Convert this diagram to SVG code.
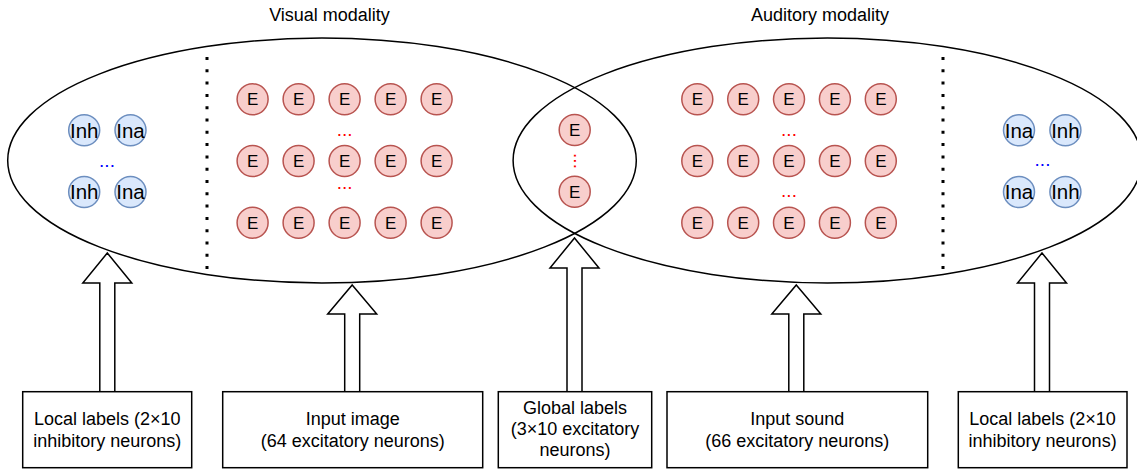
<svg xmlns="http://www.w3.org/2000/svg" width="1137" height="470" viewBox="0 0 1137 470">
<defs>
<style>
.t{font-family:"Liberation Sans",Arial,sans-serif;font-size:18px;fill:#000;text-anchor:middle}
.e circle{fill:#f8cecc;stroke:#b85450;stroke-width:1.5}
.e text{font-family:"Liberation Sans",Arial,sans-serif;font-size:17px;fill:#000;text-anchor:middle}
.i circle{fill:#dae8fc;stroke:#6c8ebf;stroke-width:1.5}
.i text{font-family:"Liberation Sans",Arial,sans-serif;font-size:20.5px;fill:#000;text-anchor:middle}
g text.dr{font-family:"Liberation Sans",Arial,sans-serif;font-size:19px;fill:#ff0000;text-anchor:middle}
g text.db{font-family:"Liberation Sans",Arial,sans-serif;font-size:19px;fill:#0000ff;text-anchor:middle}
.ell{fill:none;stroke:#000;stroke-width:1.5}
.box{fill:#fff;stroke:#000;stroke-width:1.5}
.arr{fill:#fff;stroke:#000;stroke-width:1.5;stroke-linejoin:miter}
.sep{stroke:#000;stroke-width:3;stroke-dasharray:3 9.3;fill:none}
</style>
</defs>
<rect width="1137" height="470" fill="#fff"/>

<g id="titles">
<text class="t" x="329.5" y="21">Visual modality</text>
<text class="t" x="820" y="21">Auditory modality</text>
</g>

<g id="visual-modality">
<ellipse class="ell" cx="322" cy="160.5" rx="314.3" ry="122.5"/>
</g>
<g id="auditory-modality">
<ellipse class="ell" cx="827.4" cy="160.5" rx="314.3" ry="122.5"/>
</g>

<g id="separators">
<line class="sep" x1="207" y1="57" x2="207" y2="270"/>
<line class="sep" x1="943" y1="57" x2="943" y2="270"/>
</g>

<g id="visual-local-labels" class="i">
<circle cx="84.2" cy="130.3" r="15.5"/><text x="84.2" y="137.6">Inh</text>
<circle cx="130.5" cy="130.3" r="15.5"/><text x="130.5" y="137.6">Ina</text>
<circle cx="84.2" cy="192" r="15.5"/><text x="84.2" y="199.3">Inh</text>
<circle cx="130.5" cy="192" r="15.5"/><text x="130.5" y="199.3">Ina</text>
<text class="db" x="107" y="166.5">...</text>
</g>

<g id="visual-input" class="e">
<circle cx="252.6" cy="99.3" r="15.5"/><text x="252.6" y="105.4">E</text>
<circle cx="298.6" cy="99.3" r="15.5"/><text x="298.6" y="105.4">E</text>
<circle cx="344.6" cy="99.3" r="15.5"/><text x="344.6" y="105.4">E</text>
<circle cx="390.6" cy="99.3" r="15.5"/><text x="390.6" y="105.4">E</text>
<circle cx="436.6" cy="99.3" r="15.5"/><text x="436.6" y="105.4">E</text>
<circle cx="252.6" cy="161" r="15.5"/><text x="252.6" y="167.1">E</text>
<circle cx="298.6" cy="161" r="15.5"/><text x="298.6" y="167.1">E</text>
<circle cx="344.6" cy="161" r="15.5"/><text x="344.6" y="167.1">E</text>
<circle cx="390.6" cy="161" r="15.5"/><text x="390.6" y="167.1">E</text>
<circle cx="436.6" cy="161" r="15.5"/><text x="436.6" y="167.1">E</text>
<circle cx="252.6" cy="222.7" r="15.5"/><text x="252.6" y="228.8">E</text>
<circle cx="298.6" cy="222.7" r="15.5"/><text x="298.6" y="228.8">E</text>
<circle cx="344.6" cy="222.7" r="15.5"/><text x="344.6" y="228.8">E</text>
<circle cx="390.6" cy="222.7" r="15.5"/><text x="390.6" y="228.8">E</text>
<circle cx="436.6" cy="222.7" r="15.5"/><text x="436.6" y="228.8">E</text>
<text class="dr" x="344.6" y="136">...</text>
<text class="dr" x="344.6" y="189">...</text>
</g>

<g id="global-labels-neurons" class="e">
<circle cx="574.7" cy="130" r="15.5"/><text x="574.7" y="136.1">E</text>
<circle cx="574.7" cy="191.7" r="15.5"/><text x="574.7" y="197.8">E</text>
<text class="dr" transform="translate(573.5,161) rotate(90)">...</text>
</g>

<g id="auditory-input" class="e">
<circle cx="697.3" cy="99.3" r="15.5"/><text x="697.3" y="105.4">E</text>
<circle cx="743.2" cy="99.3" r="15.5"/><text x="743.2" y="105.4">E</text>
<circle cx="789" cy="99.3" r="15.5"/><text x="789" y="105.4">E</text>
<circle cx="834.9" cy="99.3" r="15.5"/><text x="834.9" y="105.4">E</text>
<circle cx="880.8" cy="99.3" r="15.5"/><text x="880.8" y="105.4">E</text>
<circle cx="697.3" cy="161" r="15.5"/><text x="697.3" y="167.1">E</text>
<circle cx="743.2" cy="161" r="15.5"/><text x="743.2" y="167.1">E</text>
<circle cx="789" cy="161" r="15.5"/><text x="789" y="167.1">E</text>
<circle cx="834.9" cy="161" r="15.5"/><text x="834.9" y="167.1">E</text>
<circle cx="880.8" cy="161" r="15.5"/><text x="880.8" y="167.1">E</text>
<circle cx="697.3" cy="222.7" r="15.5"/><text x="697.3" y="228.8">E</text>
<circle cx="743.2" cy="222.7" r="15.5"/><text x="743.2" y="228.8">E</text>
<circle cx="789" cy="222.7" r="15.5"/><text x="789" y="228.8">E</text>
<circle cx="834.9" cy="222.7" r="15.5"/><text x="834.9" y="228.8">E</text>
<circle cx="880.8" cy="222.7" r="15.5"/><text x="880.8" y="228.8">E</text>
<text class="dr" x="789" y="136">...</text>
<text class="dr" x="789" y="197">...</text>
</g>

<g id="auditory-local-labels" class="i">
<circle cx="1019" cy="130.3" r="15.5"/><text x="1019" y="137.6">Ina</text>
<circle cx="1065.4" cy="130.3" r="15.5"/><text x="1065.4" y="137.6">Inh</text>
<circle cx="1019" cy="192" r="15.5"/><text x="1019" y="199.3">Ina</text>
<circle cx="1065.4" cy="192" r="15.5"/><text x="1065.4" y="199.3">Inh</text>
<text class="db" x="1042.5" y="166">...</text>
</g>

<g id="connectors">
<polygon class="arr" points="107.3,253 131.8,283 114.8,283 114.8,392 99.8,392 99.8,283 82.8,283"/>
<polygon class="arr" points="352.2,285 376.7,314 359.7,314 359.7,392 344.7,392 344.7,314 327.7,314"/>
<polygon class="arr" points="574.5,238 599,268 582,268 582,392 567,392 567,268 550,268"/>
<polygon class="arr" points="796.3,285 820.8,314 803.8,314 803.8,392 788.8,392 788.8,314 771.8,314"/>
<polygon class="arr" points="1042,253 1066.5,283 1049.5,283 1049.5,392 1034.5,392 1034.5,283 1017.5,283"/>
</g>

<g id="box-local-visual">
<rect class="box" x="22.7" y="391.7" width="169" height="76"/>
<text class="t" x="107.2" y="425">Local labels (2×10</text>
<text class="t" x="107.2" y="446.5">inhibitory neurons)</text>
</g>
<g id="box-input-image">
<rect class="box" x="222.7" y="391.7" width="260" height="76"/>
<text class="t" x="352.7" y="425">Input image</text>
<text class="t" x="352.7" y="446.5">(64 excitatory neurons)</text>
</g>
<g id="box-global-labels">
<rect class="box" x="498.3" y="391.7" width="153.4" height="76"/>
<text class="t" x="575" y="413.5">Global labels</text>
<text class="t" x="575" y="434.5">(3×10 excitatory</text>
<text class="t" x="575" y="455.5">neurons)</text>
</g>
<g id="box-input-sound">
<rect class="box" x="667" y="391.7" width="260.7" height="76"/>
<text class="t" x="797.3" y="425">Input sound</text>
<text class="t" x="797.3" y="446.5">(66 excitatory neurons)</text>
</g>
<g id="box-local-auditory">
<rect class="box" x="958.3" y="391.7" width="168.7" height="76"/>
<text class="t" x="1042.6" y="425">Local labels (2×10</text>
<text class="t" x="1042.6" y="446.5">inhibitory neurons)</text>
</g>
</svg>
